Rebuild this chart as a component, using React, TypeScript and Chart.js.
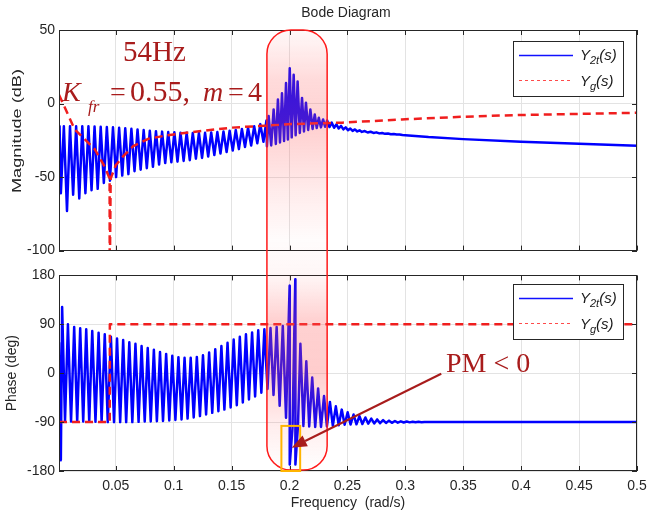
import React, { useEffect, useRef } from 'react';
import { Chart, registerables } from 'chart.js';
Chart.register(...registerables);

// ---------------- data ----------------
const X_MIN = 0.001;
const X_MAX = 0.5;
const freqTicks = [0.05, 0.1, 0.15, 0.2, 0.25, 0.3, 0.35, 0.4, 0.45, 0.5];
const freqTickLabels = ['0.05', '0.1', '0.15', '0.2', '0.25', '0.3', '0.35', '0.4', '0.45', '0.5'];
const magTicks = [-100, -50, 0, 50];
const phaseTicks = [-180, -90, 0, 90, 180];

// Y2t(s) magnitude (dB)
const magFreq = [
  0.001, 0.0015, 0.0026, 0.0052, 0.0079, 0.0105, 0.0132, 0.0158, 0.0185, 0.0211,
  0.0238, 0.0264, 0.0291, 0.0317, 0.0344, 0.037, 0.0397, 0.0423, 0.045, 0.0476,
  0.0503, 0.0529, 0.0556, 0.0582, 0.0609, 0.0635, 0.0662, 0.0688, 0.0715, 0.0741,
  0.0768, 0.0794, 0.0821, 0.0847, 0.0874, 0.09, 0.0927, 0.0953, 0.098, 0.1006,
  0.1033, 0.1059, 0.1086, 0.1112, 0.1139, 0.1165, 0.1192, 0.1218, 0.1245, 0.1271,
  0.1298, 0.1324, 0.1351, 0.1377, 0.1404, 0.143, 0.1457, 0.1483, 0.151, 0.1536,
  0.1563, 0.1589, 0.1616, 0.1642, 0.1669, 0.1695, 0.1722, 0.1748, 0.1775, 0.1801,
  0.1805, 0.182, 0.1842, 0.1863, 0.1882, 0.19, 0.1918, 0.1935, 0.1953, 0.197,
  0.1986, 0.2002, 0.2019, 0.2036, 0.2053, 0.207, 0.2089, 0.2108, 0.2125, 0.2142,
  0.2161, 0.218, 0.2199, 0.2218, 0.2235, 0.2253, 0.2271, 0.229, 0.2307, 0.2325,
  0.2345, 0.2365, 0.2385, 0.2405, 0.2425, 0.2445, 0.2465, 0.2485, 0.2505, 0.2525,
  0.2545, 0.2565, 0.2585, 0.2605, 0.2625, 0.265, 0.2675, 0.27, 0.2725, 0.275,
  0.2775, 0.28, 0.2825, 0.285, 0.2875, 0.29, 0.2925, 0.295, 0.2975, 0.3,
  0.32, 0.35, 0.4, 0.45, 0.5,
];
const magDb = [
  -19.7, -15.5, -61, -15.5, -73, -15.5, -62, -15.5, -64.5, -15.5,
  -61, -15.5, -59, -15.7, -58, -15.8, -54, -16, -52.5, -16.2,
  -50, -16.5, -49, -16.8, -48, -17.2, -46, -17.6, -45, -18,
  -44, -18.5, -43, -18.8, -41.5, -19.1, -40.5, -19.4, -40, -19.6,
  -39.5, -19.8, -39, -19.9, -38.5, -20, -37.5, -20, -37, -19.9,
  -36, -19.7, -35, -19.4, -34, -19, -33, -18.5, -32, -18,
  -31, -17.3, -29.5, -16.5, -28.5, -15.5, -27, -14, -26, -11.5,
  -29, -8.5, -28.5, -4, -27.5, 2.7, -26.5, 7, -25.5, 14,
  -24.5, 24, -23, 19.5, -21.5, 15, -20, 3.8, -19, 0.6,
  -18, -4, -17.3, -7.4, -16.7, -9.6, -16.2, -10.8, -15.8, -11.5,
  -16, -13, -16.5, -14.2, -17, -15.2, -17.6, -16.2, -18.2, -17,
  -18.6, -17.6, -19, -18.2, -19.3, -18.7, -19.7, -19.2, -20, -19.6,
  -20.3, -20, -20.6, -20.4, -20.9, -20.7, -21.1, -21, -21.4, -21.5,
  -22.8, -24.2, -26, -27.4, -28.7,
];

// Y2t(s) phase (deg)
const phaseFreq = [
  0.001, 0.0026, 0.0037, 0.0062, 0.0087, 0.0114, 0.0141, 0.0167, 0.0193, 0.0219,
  0.0245, 0.0271, 0.0297, 0.0325, 0.0352, 0.0378, 0.0405, 0.0431, 0.0458, 0.0485,
  0.0511, 0.0538, 0.0564, 0.059, 0.0617, 0.0643, 0.067, 0.0697, 0.0723, 0.075,
  0.0776, 0.0802, 0.0829, 0.0855, 0.0882, 0.0908, 0.0935, 0.0962, 0.0988, 0.1015,
  0.1041, 0.1068, 0.1094, 0.112, 0.1147, 0.1173, 0.12, 0.1227, 0.1253, 0.128,
  0.1306, 0.1333, 0.1359, 0.1386, 0.1412, 0.1438, 0.1465, 0.1492, 0.1518, 0.1545,
  0.1571, 0.1597, 0.1624, 0.165, 0.1677, 0.1703, 0.173, 0.1757, 0.1783, 0.181,
  0.1836, 0.1862, 0.1889, 0.1915, 0.1942, 0.197, 0.2001, 0.2002, 0.2026, 0.205,
  0.2051, 0.2073, 0.2094, 0.212, 0.2145, 0.217, 0.2196, 0.2222, 0.2247, 0.2272,
  0.2298, 0.2323, 0.2349, 0.2374, 0.24, 0.2425, 0.2451, 0.2476, 0.2502, 0.2527,
  0.2553, 0.2578, 0.2604, 0.2629, 0.2655, 0.268, 0.2706, 0.2731, 0.2757, 0.2782,
  0.2808, 0.2833, 0.2859, 0.2884, 0.291, 0.2935, 0.2961, 0.2986, 0.3012, 0.3037,
  0.3063, 0.3088, 0.3114, 0.314, 0.3165, 0.32, 0.5,
];
const phaseDeg = [
  57, -160, 122, -88, 90, -89, 85, -89, 82.6, -89,
  80.8, -89.5, 77.7, -89.5, 74.6, -89.5, 71.7, -90, 67, -90,
  64, -90, 61, -90, 57, -90, 54, -89.5, 50, -89,
  46.5, -89, 43, -88.5, 39, -88, 35.5, -87, 32, -86,
  29.5, -85, 28.5, -83.5, 28.5, -81.5, 30, -79, 33, -76,
  38, -73, 44, -70, 50, -67, 56, -63, 62, -59,
  67, -54, 71.5, -48.5, 75, -43, 79, -36, 81, -29,
  83, -40, 85, -60, 87, -82, 161, -168, -100, 173,
  -168, -97, 54, -97, 22, -98, -8, -99, -28, -99,
  -42, -98, -53, -97, -61, -96, -67, -95, -72, -94.5,
  -76, -94, -79, -93.5, -81.5, -93, -83.5, -92.5, -85, -92,
  -86.3, -91.6, -87.3, -91.3, -88, -91, -88.6, -90.7, -89, -90.5,
  -89.3, -90.3, -89.5, -90.2, -89.7, -90, -90,
];

// Yg(s)
const ygMagFreq = [0.001, 0.0145, 0.0318, 0.0405, 0.0447, 0.0448, 0.0449, 0.0456, 0.05, 0.0563, 0.065, 0.078, 0.095, 0.1127, 0.15, 0.202, 0.2455, 0.297, 0.349, 0.3986, 0.5];
const ygMagDb = [6, -17.5, -31, -43, -51, -115, -115, -51, -42, -36, -29, -24, -21.5, -19.7, -16.4, -14, -13, -10.8, -9, -7.8, -6.3];
const ygPhaseFreq = [0.001, 0.0448, 0.0449, 0.5];
const ygPhaseDeg = [-90, -90, 90, 90];

// annotated band / marks
const bandFreq = [0.1805, 0.2325];
const pmBoxFreq = [0.193, 0.2092];
const pmBoxPhase = -97;
const arrowFrom = [0.331, -1];
const arrowTo = [0.2019, -137];

// ---------------- styling / layout ----------------
const SANS = "'Liberation Sans', Arial, Helvetica, sans-serif";
const SERIF = "'Liberation Serif', 'Times New Roman', serif";
const BLUE = '#0000ff';
const RED = '#f01e1e';
const DARKRED = '#a81c1c';
const GRID = '#e3e3e3';
const AXIS = '#262626';
const W = 649;
const H_TOP = 263;
const H_BOT = 253;
const TOP_PAD = 30;
const BOT_PAD = 11;
const BOT_AXIS_H = 45;
const BOX_TOP = TOP_PAD; // page coords
const BOX_BOTTOM = H_TOP + H_BOT - BOT_AXIS_H - 1;

const toXY = (xs: number[], ys: number[]) => xs.map((x, i) => ({ x, y: ys[i] }));

function frameTicks(chart: any) {
  const { ctx, chartArea: a, scales } = chart;
  ctx.save();
  ctx.strokeStyle = AXIS;
  ctx.lineWidth = 1;
  ctx.strokeRect(Math.round(a.left) + 0.5, Math.round(a.top) + 0.5, Math.round(a.right - a.left) - 1, Math.round(a.bottom - a.top) - 1);
  const tl = 5;
  ctx.beginPath();
  scales.x.ticks.forEach((t: any) => {
    const px = Math.round(scales.x.getPixelForValue(t.value)) + 0.5;
    ctx.moveTo(px, a.bottom);
    ctx.lineTo(px, a.bottom - tl);
    ctx.moveTo(px, a.top);
    ctx.lineTo(px, a.top + tl);
  });
  scales.y.ticks.forEach((t: any) => {
    const py = Math.round(scales.y.getPixelForValue(t.value)) + 0.5;
    ctx.moveTo(a.left, py);
    ctx.lineTo(a.left + tl, py);
    ctx.moveTo(a.right, py);
    ctx.lineTo(a.right - tl, py);
  });
  ctx.stroke();
  ctx.restore();
}

function drawBand(chart: any, offY: number) {
  const { ctx, scales } = chart;
  const x0 = scales.x.getPixelForValue(bandFreq[0]);
  const x1 = scales.x.getPixelForValue(bandFreq[1]);
  const y0 = BOX_TOP;
  const y1 = BOX_BOTTOM;
  const r = 24;
  ctx.save();
  ctx.translate(0, -offY);
  const span = y1 - y0;
  const g = ctx.createLinearGradient(0, y0, 0, y1);
  const stops: [number, number][] = [[30, 0.04], [80, 0.22], [130, 0.28], [190, 0.12], [240, 0.02], [275, 0.05], [320, 0.28], [370, 0.3], [420, 0.12], [470, 0.0]];
  stops.forEach(([y, a]) => g.addColorStop(Math.min(1, Math.max(0, (y - y0) / span)), `rgba(255,90,90,${a})`));
  ctx.beginPath();
  ctx.moveTo(x0 + r, y0);
  ctx.lineTo(x1 - r, y0);
  ctx.arcTo(x1, y0, x1, y0 + r, r);
  ctx.lineTo(x1, y1 - r);
  ctx.arcTo(x1, y1, x1 - r, y1, r);
  ctx.lineTo(x0 + r, y1);
  ctx.arcTo(x0, y1, x0, y1 - r, r);
  ctx.lineTo(x0, y0 + r);
  ctx.arcTo(x0, y0, x0 + r, y0, r);
  ctx.closePath();
  ctx.fillStyle = g;
  ctx.fill();
  ctx.strokeStyle = '#ff1a1a';
  ctx.lineWidth = 1.5;
  ctx.stroke();
  ctx.restore();
}

function subText(ctx: CanvasRenderingContext2D, x: number, y: number, main: string, sub: string, tail: string) {
  ctx.font = `italic 15px ${SANS}`;
  ctx.fillText(main, x, y);
  let w = ctx.measureText(main).width;
  ctx.font = `italic 11px ${SANS}`;
  ctx.fillText(sub, x + w, y + 4);
  w += ctx.measureText(sub).width;
  ctx.font = `italic 15px ${SANS}`;
  ctx.fillText(tail, x + w, y);
}

function drawLegend(chart: any, dy: number) {
  const { ctx, chartArea: a } = chart;
  const L = Math.round(a.right - 124);
  const T = Math.round(a.top + dy);
  ctx.save();
  ctx.setLineDash([]);
  ctx.fillStyle = '#ffffff';
  ctx.fillRect(L, T, 110, 55);
  ctx.strokeStyle = AXIS;
  ctx.lineWidth = 1;
  ctx.strokeRect(L + 0.5, T + 0.5, 110, 55);
  ctx.beginPath();
  ctx.strokeStyle = '#1010ff';
  ctx.lineWidth = 1.3;
  ctx.moveTo(L + 6, T + 14.5);
  ctx.lineTo(L + 60, T + 14.5);
  ctx.stroke();
  ctx.beginPath();
  ctx.strokeStyle = '#ff4a4a';
  ctx.lineWidth = 1.2;
  ctx.setLineDash([3, 3]);
  ctx.moveTo(L + 6, T + 39.5);
  ctx.lineTo(L + 60, T + 39.5);
  ctx.stroke();
  ctx.setLineDash([]);
  ctx.fillStyle = '#1a1a1a';
  ctx.textBaseline = 'alphabetic';
  ctx.textAlign = 'left';
  subText(ctx, L + 67, T + 19, 'Y', '2t', '(s)');
  subText(ctx, L + 67, T + 45, 'Y', 'g', '(s)');
  ctx.restore();
}

const topPlugin = {
  id: 'topDecor',
  afterDatasetsDraw(chart: any) {
    frameTicks(chart);
    drawBand(chart, 0);
    const ctx = chart.ctx;
    ctx.save();
    ctx.fillStyle = AXIS;
    ctx.font = `14px ${SANS}`;
    ctx.textAlign = 'center';
    ctx.fillText('Bode Diagram', 346, 17);
    ctx.fillStyle = DARKRED;
    ctx.textAlign = 'left';
    ctx.font = `29px ${SERIF}`;
    ctx.fillText('54Hz', 123, 61);
    ctx.font = `italic 28px ${SERIF}`;
    ctx.fillText('K', 62, 101);
    ctx.font = `italic 17px ${SERIF}`;
    ctx.fillText('fr', 88, 112);
    ctx.font = `28px ${SERIF}`;
    ctx.fillText('=', 110, 101);
    ctx.font = `30px ${SERIF}`;
    ctx.fillText('0.55,', 130, 101);
    ctx.font = `italic 28px ${SERIF}`;
    ctx.fillText('m', 203, 101);
    ctx.font = `28px ${SERIF}`;
    ctx.fillText('=', 228, 101);
    ctx.fillText('4', 248, 101);
    ctx.restore();
    // stretched y-axis title, as in the reference
    ctx.save();
    ctx.fillStyle = AXIS;
    ctx.font = `13px ${SANS}`;
    const label = 'Magnitude (dB)';
    const w = ctx.measureText(label).width;
    ctx.translate(17.5, 131);
    ctx.rotate(-Math.PI / 2);
    ctx.scale(124 / w, 1);
    ctx.textAlign = 'center';
    ctx.textBaseline = 'middle';
    ctx.fillText(label, 0, 0);
    ctx.restore();
  },
  afterDraw(chart: any) {
    drawLegend(chart, 10.7);
  },
};

const botPlugin = {
  id: 'botDecor',
  afterDatasetsDraw(chart: any) {
    frameTicks(chart);
    drawBand(chart, H_TOP);
    const { ctx, scales } = chart;
    const xs = scales.x;
    const ys = scales.y;
    ctx.save();
    const bx0 = xs.getPixelForValue(pmBoxFreq[0]);
    const bx1 = xs.getPixelForValue(pmBoxFreq[1]);
    const by0 = ys.getPixelForValue(pmBoxPhase);
    const by1 = chart.chartArea.bottom;
    ctx.strokeStyle = '#ffb400';
    ctx.lineWidth = 2;
    ctx.strokeRect(bx0, by0, bx1 - bx0, by1 - by0);
    const ax0 = xs.getPixelForValue(arrowFrom[0]);
    const ay0 = ys.getPixelForValue(arrowFrom[1]);
    const ax1 = xs.getPixelForValue(arrowTo[0]);
    const ay1 = ys.getPixelForValue(arrowTo[1]);
    const ang = Math.atan2(ay1 - ay0, ax1 - ax0);
    const hl = 15;
    const hw = 6;
    const bxp = ax1 - hl * Math.cos(ang);
    const byp = ay1 - hl * Math.sin(ang);
    ctx.strokeStyle = DARKRED;
    ctx.fillStyle = DARKRED;
    ctx.lineWidth = 2;
    ctx.beginPath();
    ctx.moveTo(ax0, ay0);
    ctx.lineTo(bxp, byp);
    ctx.stroke();
    ctx.beginPath();
    ctx.moveTo(ax1, ay1);
    ctx.lineTo(bxp + hw * Math.sin(ang), byp - hw * Math.cos(ang));
    ctx.lineTo(bxp - hw * Math.sin(ang), byp + hw * Math.cos(ang));
    ctx.closePath();
    ctx.fill();
    ctx.font = `28px ${SERIF}`;
    ctx.textAlign = 'left';
    ctx.fillText('PM < 0', 446, 108.7);
    ctx.restore();
  },
  afterDraw(chart: any) {
    drawLegend(chart, 8.7);
  },
};

function xScale(showLabels: boolean, height: number) {
  return {
    type: 'linear',
    min: X_MIN,
    max: X_MAX,
    afterBuildTicks: (s: any) => {
      s.ticks = freqTicks.map((v) => ({ value: v }));
    },
    ticks: {
      display: showLabels,
      autoSkip: false,
      maxRotation: 0,
      padding: 0,
      color: AXIS,
      font: { family: SANS, size: 14 },
      callback: (_v: any, i: number) => freqTickLabels[i],
    },
    grid: { color: GRID, drawTicks: true, tickLength: 7, tickColor: 'rgba(0,0,0,0)' },
    border: { display: false },
    title: {
      display: showLabels,
      text: 'Frequency  (rad/s)',
      color: AXIS,
      font: { family: SANS, size: 14 },
      padding: { top: 0, bottom: 4 },
    },
    afterFit: (s: any) => {
      s.height = height;
    },
  };
}

function yScale(min: number, max: number, ticks: number[], title: string, showTitle: boolean) {
  return {
    type: 'linear',
    min,
    max,
    afterBuildTicks: (s: any) => {
      s.ticks = ticks.map((v) => ({ value: v }));
    },
    ticks: {
      padding: 4,
      color: AXIS,
      font: { family: SANS, size: 14 },
      callback: (v: any) => String(v),
    },
    grid: { color: GRID, drawTicks: false },
    border: { display: false },
    title: {
      display: showTitle,
      text: title,
      color: AXIS,
      font: { family: SANS, size: 14 },
      padding: { top: 4, bottom: 0 },
    },
    afterFit: (s: any) => {
      s.width = 59;
    },
  };
}

const baseOptions = (padTop: number) => ({
  responsive: false,
  animation: false,
  devicePixelRatio: 1,
  events: [],
  layout: { padding: { top: padTop, right: 12, left: 0, bottom: 0 } },
  plugins: { legend: { display: false }, tooltip: { enabled: false }, title: { display: false } },
  elements: { point: { radius: 0 }, line: { borderJoinStyle: 'round', tension: 0 } },
});

export default function App() {
  const topRef = useRef<HTMLCanvasElement>(null);
  const botRef = useRef<HTMLCanvasElement>(null);
  useEffect(() => {
    document.body.style.margin = '0';
    const top = new Chart(topRef.current as HTMLCanvasElement, {
      type: 'line',
      data: {
        datasets: [
          { label: 'Yg(s)', data: toXY(ygMagFreq, ygMagDb), borderColor: RED, borderWidth: 2.5, borderDash: [8, 5], pointRadius: 0, fill: false },
          { label: 'Y2t(s)', data: toXY(magFreq, magDb), borderColor: BLUE, borderWidth: 2.5, pointRadius: 0, fill: false },
        ],
      },
      options: {
        ...baseOptions(TOP_PAD),
        scales: { x: xScale(false, H_TOP - 253), y: yScale(-100, 50, magTicks, 'Magnitude (dB)', false) },
      } as any,
      plugins: [topPlugin],
    } as any);
    const bot = new Chart(botRef.current as HTMLCanvasElement, {
      type: 'line',
      data: {
        datasets: [
          { label: 'Yg(s)', data: toXY(ygPhaseFreq, ygPhaseDeg), borderColor: RED, borderWidth: 2.5, borderDash: [8, 5], pointRadius: 0, fill: false },
          { label: 'Y2t(s)', data: toXY(phaseFreq, phaseDeg), borderColor: BLUE, borderWidth: 2.5, pointRadius: 0, fill: false },
        ],
      },
      options: {
        ...baseOptions(BOT_PAD),
        scales: { x: xScale(true, BOT_AXIS_H), y: yScale(-180, 180, phaseTicks, 'Phase (deg)', true) },
      } as any,
      plugins: [botPlugin],
    } as any);
    return () => {
      top.destroy();
      bot.destroy();
    };
  }, []);
  return (
    <div style={{ position: 'relative', width: W, height: H_TOP + H_BOT, background: '#ffffff' }}>
      <canvas ref={topRef} width={W} height={H_TOP} style={{ position: 'absolute', left: 0, top: 0 }} />
      <canvas ref={botRef} width={W} height={H_BOT} style={{ position: 'absolute', left: 0, top: H_TOP }} />
    </div>
  );
}
